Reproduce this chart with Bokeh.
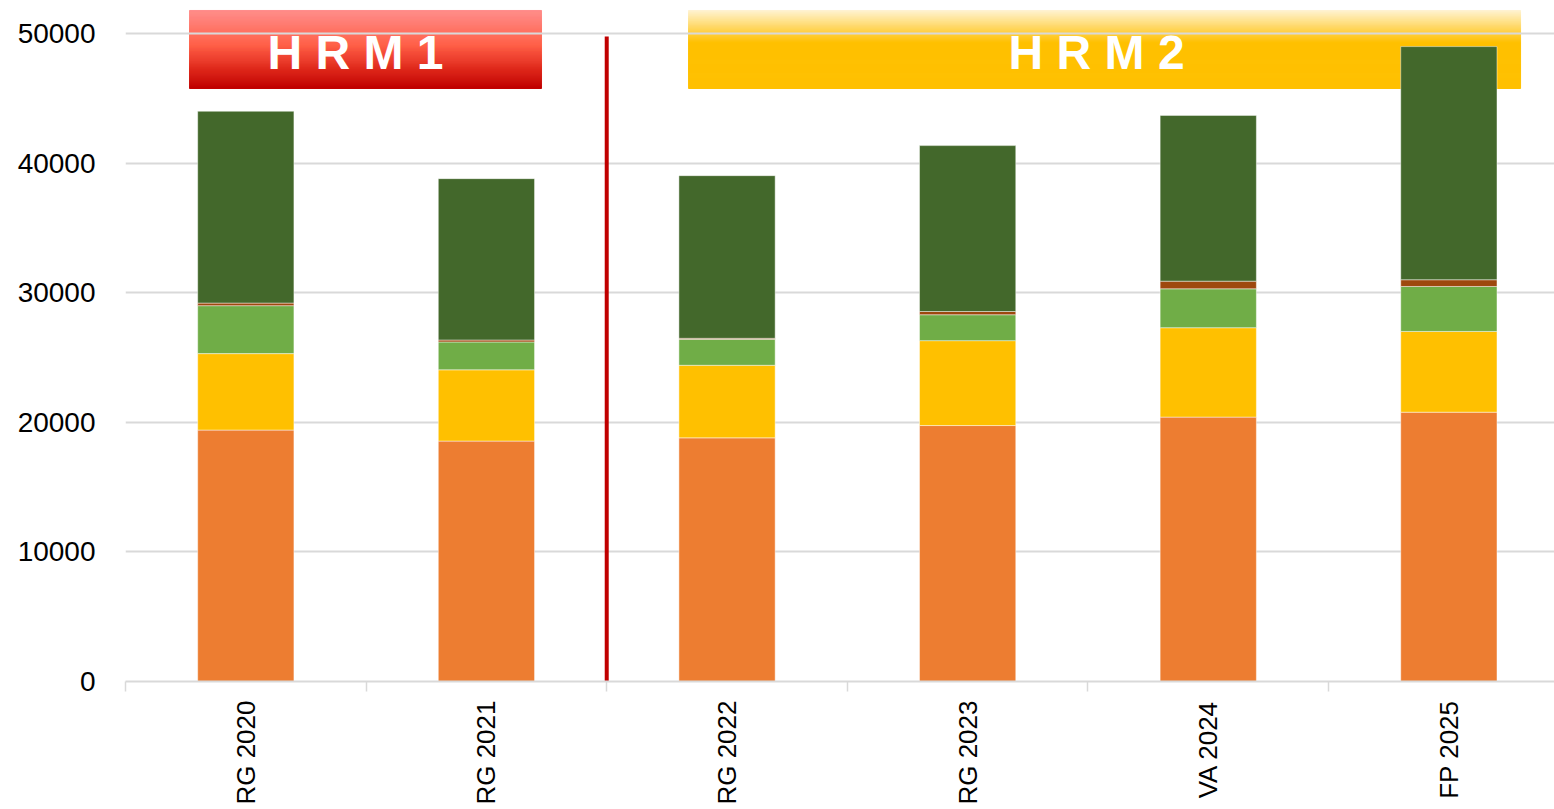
import numpy as np
from bokeh.plotting import figure
from bokeh.models import Range1d, FixedTicker, ColumnDataSource
from bokeh.embed import file_html
from bokeh.resources import INLINE
from bokeh.core.properties import value

# ---------------- data ----------------
categories = ["RG 2020", "RG 2021", "RG 2022", "RG 2023", "VA 2024", "FP 2025"]
serie_orange = [19400, 18550, 18800, 19750, 20400, 20780]
serie_yellow = [5900, 5500, 5600, 6550, 6900, 6230]
serie_lightgreen = [3700, 2150, 2000, 2000, 3000, 3470]
serie_brown = [200, 150, 80, 250, 590, 520]
serie_darkgreen = [14800, 12450, 12550, 12800, 12790, 17990]
y_ticks = [0, 10000, 20000, 30000, 40000, 50000]
group_labels = ["H R M 1", "H R M 2"]

series_names = ["s1", "s2", "s3", "s4", "s5"]
series_colors = ["#ED7D31", "#FFC000", "#70AD47", "#9E480E", "#43682B"]

# ---------------- figure ----------------
x_pos = [i + 0.5 for i in range(len(categories))]
src = ColumnDataSource(dict(x=x_pos, s1=serie_orange, s2=serie_yellow, s3=serie_lightgreen,
                            s4=serie_brown, s5=serie_darkgreen))

p = figure(width=1554, height=809, x_range=Range1d(0, 5.939), y_range=Range1d(0, 52546),
           output_backend="svg", toolbar_location=None,
           min_border_left=125, min_border_right=0, min_border_top=0, min_border_bottom=128)
p.outline_line_color = None
p.background_fill_color = "white"


def hex2rgb(h):
    h = h.lstrip("#")
    return np.array([int(h[i:i + 2], 16) for i in (0, 2, 4)], dtype=float)


def grad_color(stops, t):
    for (t0, c0), (t1, c1) in zip(stops[:-1], stops[1:]):
        if t0 <= t <= t1:
            f = 0 if t1 == t0 else (t - t0) / (t1 - t0)
            c = hex2rgb(c0) * (1 - f) + hex2rgb(c1) * f
            return "#%02x%02x%02x" % tuple(int(round(v)) for v in c)
    return stops[-1][1]


def gradient_box(x0, x1, ytop, ybot, stops, n=80):
    edges = np.linspace(ytop, ybot, n + 1)
    cols = [grad_color(stops, (i + 0.5) / n) for i in range(n)]
    p.quad(left=[x0] * n, right=[x1] * n, top=list(edges[:-1]), bottom=list(edges[1:]),
           fill_color=cols, line_color=cols, line_width=1, level="image")


# group header boxes (layout)
box_top, box_bot = 51776, 45756
gradient_box(0.266, 1.729, box_top, box_bot,
             [(0.0, "#FF8E8C"), (0.45, "#FF6048"), (0.75, "#E02A1C"), (1.0, "#C00000")])
gradient_box(2.340, 5.798, box_top, box_bot,
             [(0.0, "#FFF3D4"), (0.42, "#FFC000"), (1.0, "#FFC000")])

# stacked bars
p.vbar_stack(series_names, x="x", width=0.4, color=series_colors, source=src,
             line_color="white", line_alpha=0.45, line_width=1)

# group labels
p.text(x=[0.956, 4.036], y=[48540, 48540], text=group_labels,
       text_font=value("Liberation Sans"), text_font_style="bold", text_font_size="48px",
       text_color="white", text_align="center", text_baseline="middle")

# separator
p.segment(x0=[2.0], y0=[0], x1=[2.0], y1=[49770], line_color="#C00000", line_width=4)

# axes
p.xgrid.visible = False
p.ygrid.ticker = FixedTicker(ticks=y_ticks)
p.ygrid.grid_line_color = "#D9D9D9"
p.ygrid.grid_line_width = 2

xa = p.xaxis[0]
xa.ticker = FixedTicker(ticks=x_pos, minor_ticks=list(range(0, len(categories) + 1)))
xa.major_label_overrides = {x: c for x, c in zip(x_pos, categories)}
xa.major_tick_in = 0
xa.major_tick_out = 0
xa.minor_tick_in = 0
xa.minor_tick_out = 10
xa.minor_tick_line_color = "#D9D9D9"
xa.minor_tick_line_width = 1.5
xa.axis_line_color = "#D9D9D9"
xa.axis_line_width = 2
xa.major_label_orientation = np.pi / 2
xa.major_label_standoff = 9
xa.major_label_text_font = "Liberation Sans"
xa.major_label_text_font_size = "26px"
xa.major_label_text_color = "black"

ya = p.yaxis[0]
ya.ticker = FixedTicker(ticks=y_ticks)
ya.axis_line_color = None
ya.major_tick_line_color = None
ya.major_tick_in = 0
ya.major_tick_out = 0
ya.minor_tick_line_color = None
ya.major_label_standoff = 30
ya.major_label_text_font = "Liberation Sans"
ya.major_label_text_font_size = "28px"
ya.major_label_text_color = "black"

open("out.html", "w").write(file_html(p, INLINE))
